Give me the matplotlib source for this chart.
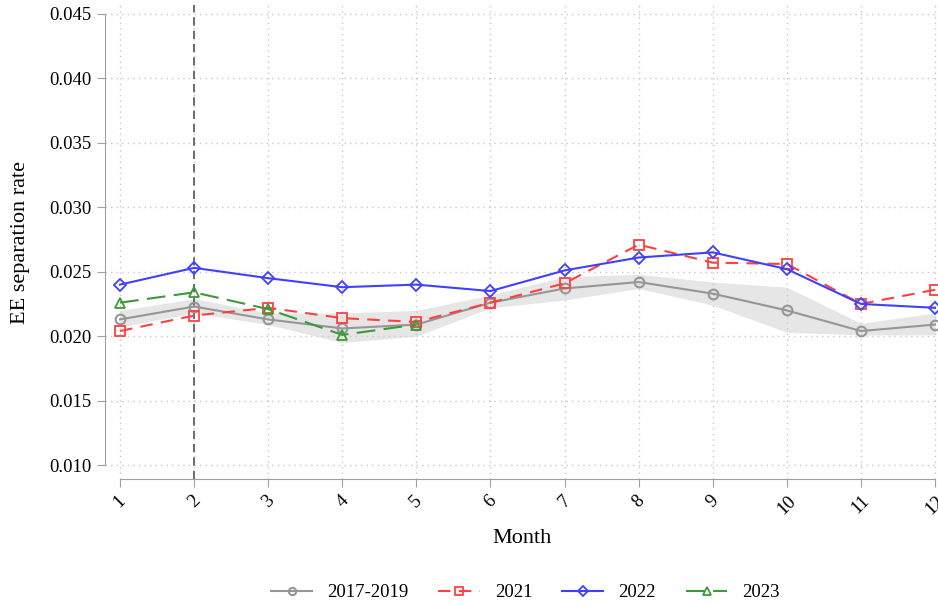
import numpy as np
import matplotlib.pyplot as plt

plt.rcParams['font.family'] = ['Liberation Serif', 'DejaVu Serif']

months = np.arange(1, 13)
base = [0.0213, 0.0223, 0.0213, 0.0206, 0.0209, 0.0226, 0.0237, 0.0242, 0.0233, 0.0220, 0.0204, 0.0209]
base_lo = [0.0207, 0.0218, 0.0209, 0.0195, 0.0200, 0.0222, 0.0228, 0.0237, 0.0224, 0.0203, 0.0201, 0.0201]
base_hi = [0.0220, 0.0229, 0.0218, 0.0218, 0.0220, 0.0232, 0.0246, 0.0248, 0.0242, 0.0238, 0.0210, 0.0218]
y2021 = [0.0204, 0.0216, 0.0222, 0.0214, 0.0211, 0.0226, 0.0241, 0.0271, 0.0257, 0.0256, 0.0225, 0.0236]
y2022 = [0.0240, 0.0253, 0.0245, 0.0238, 0.0240, 0.0235, 0.0251, 0.0261, 0.0265, 0.0252, 0.0225, 0.0222]
m2023 = [1, 2, 3, 4, 5]
y2023 = [0.0226, 0.0234, 0.0221, 0.0201, 0.0209]
yticks = [0.010, 0.015, 0.020, 0.025, 0.030, 0.035, 0.040, 0.045]

fig = plt.figure(figsize=(9.38, 6.05), dpi=100)
ax = fig.add_axes([0.112, 0.208, 0.888, 0.784])

ax.fill_between(months, base_lo, base_hi, color='#e6e6e6', lw=0, zorder=1)
ax.plot(months, base, color='#969696', lw=1.5, marker='o', ms=7, mfc='none', mew=1.5, label='2017-2019', zorder=3)
ax.plot(months, y2021, color='#ff4040', lw=1.5, ls=(0, (6, 4)), marker='s', ms=7, mfc='none', mew=1.3, label='2021', zorder=4)
ax.plot(months, y2022, color='#4040ff', lw=1.5, marker='D', ms=6.5, mfc='none', mew=1.3, label='2022', zorder=5)
ax.plot(m2023, y2023, color='#3c9a3c', lw=1.5, ls=(0, (9, 4)), marker='^', ms=7.5, mfc='none', mew=1.3, label='2023', zorder=4)
ax.axvline(2, color='#555555', lw=1.2, ls=(0, (5, 3)), zorder=2)

ax.set_xlim(0.798, 12.04)
ax.set_ylim(0.00891, 0.0457)
ax.set_xticks(months)
ax.set_xticklabels([str(m) for m in months], rotation=45, fontsize=13.5)
ax.set_yticks(yticks)
ax.set_yticklabels(['%.3f' % v for v in yticks], fontsize=13.5)
ax.grid(True, color='#c8c8c8', ls=(0, (1, 3)), lw=1)

for s in ['top', 'right']:
    ax.spines[s].set_visible(False)
ax.spines['left'].set_bounds(0.010, 0.045)
ax.spines['bottom'].set_bounds(1, 12)
for s in ['left', 'bottom']:
    ax.spines[s].set_color('#a0a0a0')
ax.tick_params(colors='#a0a0a0', labelcolor='black', length=6)

ax.set_xlabel('Month', fontsize=16, labelpad=8)
ax.set_ylabel('EE separation rate', fontsize=16, labelpad=14)

fig.legend(loc='lower center', bbox_to_anchor=(0.56, -0.022), ncol=4, frameon=False,
           fontsize=13.5, handlelength=2.2, columnspacing=1.6, markerscale=0.75)

fig.savefig('out.png', dpi=100)
